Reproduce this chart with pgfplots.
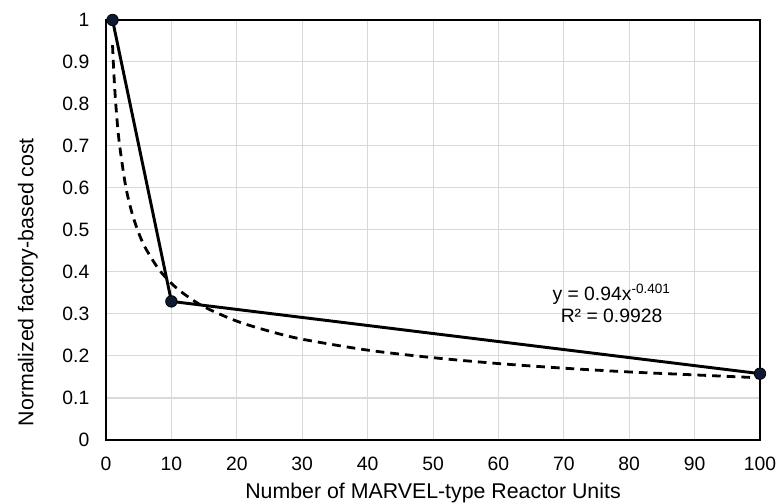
\documentclass[border=0pt]{standalone}
\usepackage{pgfplots}
\pgfplotsset{compat=1.18}
\usepackage{fontspec}
\setmainfont{Liberation Sans}
\definecolor{gridgray}{HTML}{D9D9D9}
\definecolor{dotfill}{HTML}{0E1A33}
\begin{document}
\begin{tikzpicture}
\useasboundingbox (-79.5pt,-47.25pt) rectangle (503.25pt,330pt);
\begin{axis}[
  scale only axis, width=490.5pt, height=315pt,
  xmin=0, xmax=100, ymin=0, ymax=1,
  xtick={0,10,...,100}, ytick={0,0.1,...,1},
  yticklabel style={/pgf/number format/fixed},
  /pgf/number format/assume math mode=true,
  tick style={draw=none},
  grid=major, major grid style={gridgray, line width=0.75pt},
  axis line style={black, line width=1.6pt},
  tick label style={font=\fontsize{14.5}{16}\selectfont},
  xticklabel style={yshift=-9pt},
  yticklabel style={xshift=-9pt},
  xlabel={Number of MARVEL-type Reactor Units},
  ylabel={Normalized factory-based cost},
  label style={font=\fontsize{16}{18}\selectfont},
  xlabel style={yshift=-2.5pt},
  ylabel style={at={(ticklabel cs:0.376)}, yshift=11.5pt},
  clip=false,
]
\addplot[black, line width=2.1pt, dash pattern=on 6.5pt off 4.5pt, smooth] coordinates {
  (1,0.940) (1.2,0.874) (1.5,0.799) (2,0.712) (3,0.605) (4,0.539) (5,0.493)
  (6,0.458) (8,0.408) (10,0.373) (12,0.347) (15,0.317) (20,0.283) (25,0.259)
  (30,0.240) (40,0.214) (50,0.196) (60,0.182) (70,0.171) (80,0.162)
  (90,0.155) (100,0.148)};
\addplot[black, line width=2.2pt, mark=*, mark size=4.3pt,
  mark options={fill=dotfill, draw=black, line width=0.6pt}] coordinates {
  (1,1) (10,0.33) (100,0.158)};
\node[font=\fontsize{14.5}{16.5}\selectfont, align=center] at (axis cs:77.3,0.326)
  {y = 0.94x\textsuperscript{-0.401}\\ R² = 0.9928};
\end{axis}
\end{tikzpicture}
\end{document}
